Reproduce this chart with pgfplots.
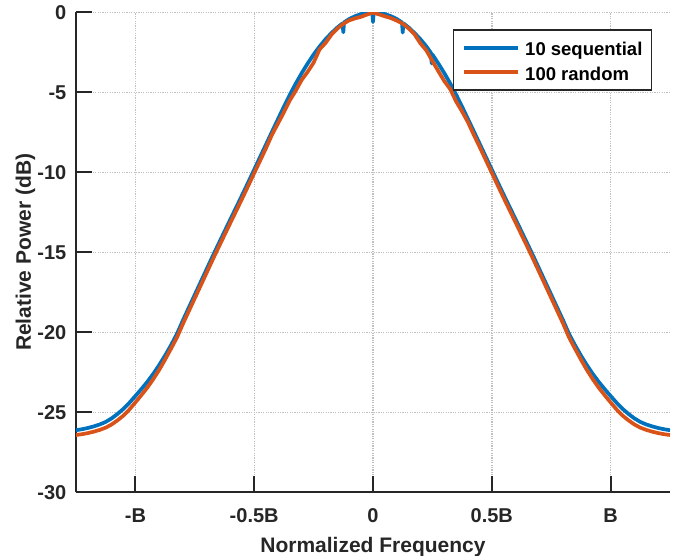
\documentclass[border=0pt]{standalone}
\usepackage{pgfplots}
\pgfplotsset{compat=1.18}
\usepackage{fontspec}
\setmainfont{Liberation Sans}
\definecolor{mblue}{RGB}{0,114,189}
\definecolor{morange}{RGB}{217,83,25}
\definecolor{axc}{RGB}{38,38,38}

\pgfplotstableread{
x y
-1.250 -26.12
-1.225 -26.06
-1.200 -25.98
-1.175 -25.88
-1.150 -25.76
-1.125 -25.60
-1.100 -25.38
-1.075 -25.10
-1.050 -24.78
-1.025 -24.40
-1.000 -23.98
-0.975 -23.55
-0.950 -23.10
-0.925 -22.60
-0.900 -22.05
-0.875 -21.45
-0.850 -20.80
-0.825 -20.10
-0.800 -19.25
-0.775 -18.45
-0.750 -17.65
-0.725 -16.85
-0.700 -16.05
-0.675 -15.25
-0.650 -14.47
-0.625 -13.70
-0.600 -12.93
-0.575 -12.17
-0.550 -11.40
-0.525 -10.62
-0.500 -9.83
-0.475 -9.04
-0.450 -8.25
-0.425 -7.46
-0.400 -6.68
-0.375 -5.90
-0.350 -5.15
-0.325 -4.45
-0.300 -3.80
-0.275 -3.20
-0.250 -2.64
-0.225 -2.14
-0.200 -1.69
-0.175 -1.30
-0.150 -0.95
-0.128 -0.69
-0.125 -1.25
-0.122 -0.63
-0.100 -0.42
-0.075 -0.24
-0.050 -0.11
-0.025 -0.03
-0.003 0.00
0.000 -0.60
0.003 0.00
0.025 -0.03
0.050 -0.11
0.075 -0.24
0.100 -0.42
0.122 -0.63
0.125 -1.27
0.128 -0.69
0.150 -0.95
0.175 -1.30
0.200 -1.69
0.225 -2.14
0.244 -2.54
0.247 -3.20
0.250 -2.64
0.275 -3.20
0.300 -3.80
0.325 -4.45
0.350 -5.15
0.375 -5.90
0.400 -6.68
0.425 -7.46
0.450 -8.25
0.475 -9.04
0.500 -9.83
0.525 -10.62
0.550 -11.40
0.575 -12.17
0.600 -12.93
0.625 -13.70
0.650 -14.47
0.675 -15.25
0.700 -16.05
0.725 -16.85
0.750 -17.65
0.775 -18.45
0.800 -19.25
0.825 -20.10
0.850 -20.80
0.875 -21.45
0.900 -22.05
0.925 -22.60
0.950 -23.10
0.975 -23.55
1.000 -23.98
1.025 -24.40
1.050 -24.78
1.075 -25.10
1.100 -25.38
1.125 -25.60
1.150 -25.76
1.175 -25.88
1.200 -25.98
1.225 -26.06
1.250 -26.12
}\seqdata

\pgfplotstableread{
x y
-1.250 -26.42
-1.225 -26.37
-1.200 -26.30
-1.175 -26.21
-1.150 -26.10
-1.125 -25.96
-1.100 -25.76
-1.075 -25.50
-1.050 -25.20
-1.025 -24.82
-1.000 -24.38
-0.975 -23.93
-0.950 -23.46
-0.925 -22.93
-0.900 -22.35
-0.875 -21.70
-0.850 -21.02
-0.825 -20.32
-0.800 -19.47
-0.775 -18.67
-0.750 -17.87
-0.725 -17.07
-0.700 -16.27
-0.675 -15.47
-0.650 -14.69
-0.625 -13.92
-0.600 -13.15
-0.575 -12.39
-0.550 -11.62
-0.525 -10.84
-0.500 -10.05
-0.475 -9.27
-0.450 -8.48
-0.425 -7.65
-0.400 -6.95
-0.375 -6.25
-0.350 -5.50
-0.325 -4.90
-0.300 -4.22
-0.275 -3.72
-0.250 -3.15
-0.225 -2.32
-0.200 -1.92
-0.175 -1.40
-0.150 -1.02
-0.125 -0.72
-0.100 -0.50
-0.075 -0.38
-0.050 -0.28
-0.025 -0.14
0.000 -0.02
0.025 -0.13
0.050 -0.25
0.075 -0.36
0.100 -0.52
0.125 -0.71
0.150 -1.01
0.175 -1.38
0.200 -1.95
0.225 -2.39
0.250 -3.05
0.275 -3.68
0.300 -4.30
0.325 -4.80
0.350 -5.58
0.375 -6.20
0.400 -6.88
0.425 -7.68
0.450 -8.45
0.475 -9.24
0.500 -10.03
0.525 -10.82
0.550 -11.60
0.575 -12.37
0.600 -13.13
0.625 -13.90
0.650 -14.67
0.675 -15.45
0.700 -16.25
0.725 -17.05
0.750 -17.85
0.775 -18.65
0.800 -19.45
0.825 -20.32
0.850 -21.02
0.875 -21.70
0.900 -22.35
0.925 -22.93
0.950 -23.46
0.975 -23.93
1.000 -24.38
1.025 -24.82
1.050 -25.20
1.075 -25.50
1.100 -25.76
1.125 -25.96
1.150 -26.10
1.175 -26.21
1.200 -26.30
1.225 -26.37
1.250 -26.42
}\randdata

\begin{document}
\begin{tikzpicture}
\begin{axis}[
  name=ax,
  scale only axis, width=594pt, height=480pt,
  xmin=-1.25, xmax=1.25, ymin=-30, ymax=0,
  axis x line=bottom, axis y line=left,
  axis line style={-, line width=2pt, color=axc},
  xtick={-1,-0.5,0,0.5,1}, xticklabels={-B,-0.5B,0,0.5B,B},
  ytick={-30,-25,-20,-15,-10,-5,0}, yticklabels={-30,-25,-20,-15,-10,-5,0},
  tick align=inside, major tick length=16pt,
  tick style={line width=2pt, color=axc},
  grid=major,
  major grid style={color=black!25, line width=1.4pt, dash pattern=on 1.2pt off 1.2pt},
  xticklabel style={anchor=base, yshift=-30pt, font=\fontsize{20}{24}\selectfont\bfseries, text=axc},
  yticklabel style={anchor=east, inner sep=0pt, xshift=-9.5pt, font=\fontsize{20}{24}\selectfont\bfseries, text=axc},
  xlabel={Normalized Frequency}, ylabel={Relative Power (dB)},
  xlabel style={at={(axis description cs:0.5,-0.1258)}, anchor=base, font=\fontsize{21}{25}\selectfont\bfseries, text=axc},
  ylabel style={at={(axis description cs:-0.0758,0.5)}, anchor=base, font=\fontsize{21}{25}\selectfont\bfseries, text=axc},
  legend style={at={(0.97,0.9646)}, anchor=north east, draw=axc, line width=1.5pt, fill=white,
    inner xsep=9pt, inner ysep=6pt, row sep=0.6pt, column sep=5pt,
    font=\fontsize{18.5}{22}\selectfont\bfseries, text=black,
    nodes={inner sep=0pt, text height=19.7pt, text depth=4pt}},
  legend cell align=left,
  legend image code/.code={\draw[#1, line width=3.8pt, line cap=butt] (0pt,0pt) -- (54pt,0pt);},
]
\addplot[mblue, line width=3.7pt, line join=round] table {\seqdata};
\addlegendentry{10 sequential}
\addplot[morange, line width=3.7pt, line join=round] table {\randdata};
\addlegendentry{100 random}
\end{axis}
\pgfresetboundingbox
\path[use as bounding box] (ax.south west) ++(-76pt,-63.7pt) rectangle ++(677pt,556pt);
\end{tikzpicture}
\end{document}
